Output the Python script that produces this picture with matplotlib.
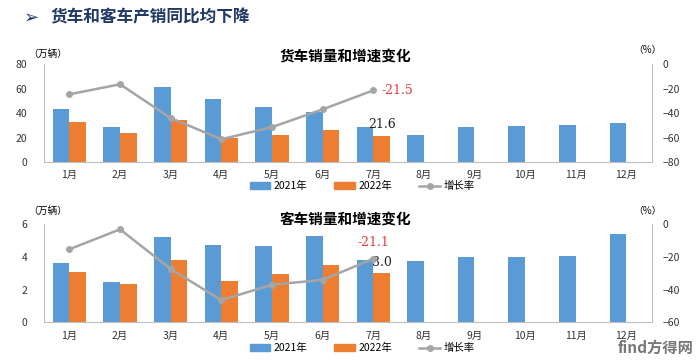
import numpy as np
import matplotlib.pyplot as plt
from matplotlib.lines import Line2D
from matplotlib.patches import Patch

plt.rcParams['font.family'] = ['Noto Sans CJK SC', 'DejaVu Sans']

months = ['1月', '2月', '3月', '4月', '5月', '6月', '7月', '8月', '9月', '10月', '11月', '12月']

truck_2021 = [43.3, 28.2, 61.1, 51.2, 44.9, 40.5, 28.2, 21.7, 28.5, 29.6, 29.9, 32.0]
truck_2022 = [32.3, 23.3, 34.2, 19.7, 21.7, 25.8, 21.6]
truck_rate = [-24.7, -16.5, -44.1, -61.4, -51.5, -37.0, -21.5]

bus_2021 = [3.65, 2.45, 5.22, 4.75, 4.67, 5.30, 3.83, 3.77, 4.00, 3.98, 4.04, 5.43]
bus_2022 = [3.08, 2.36, 3.80, 2.55, 2.94, 3.49, 3.0]
bus_rate = [-15.3, -3.1, -27.4, -46.5, -37.0, -34.1, -21.1]

blue = '#5B9BD5'
orange = '#ED7D31'
gray = '#A5A5A5'
red = '#E8383D'
spine_c = '#BFBFBF'

fig = plt.figure(figsize=(7.0, 3.6), dpi=100)
fig.patch.set_facecolor('white')

fig.text(0.034, 0.952, '➢', fontsize=13, color='#1F3864', va='center', ha='left',
         family=['DejaVu Sans'])
fig.text(0.072, 0.952, '货车和客车产销同比均下降', fontsize=12, color='#1F3864',
         weight='bold', va='center', ha='left')


def draw(rect, v21, v22, rate, ymax, ystep, rmin, rstep, title, rate_off, legend_y,
         title_dy, unit_dy):
    ax = fig.add_axes(rect)
    x = np.arange(len(months))
    w = 0.33
    ax.bar(x - w / 2, v21, w, color=blue, zorder=2)
    x22 = np.arange(len(v22))
    ax.bar(x22 + w / 2, v22, w, color=orange, zorder=2)
    ax.set_xlim(-0.5, 11.5)
    ax.set_ylim(0, ymax)
    ax.set_yticks(np.arange(0, ymax + 0.01, ystep))
    ax.set_xticks(x)
    ax.set_xticklabels(months)
    ax.tick_params(length=0, labelsize=7.5, colors='#333333')
    ax.tick_params(axis='x', pad=6)
    ax.tick_params(axis='y', pad=12)
    for s in ['top', 'right']:
        ax.spines[s].set_visible(False)
    ax.spines['left'].set_color(spine_c)
    ax.spines['bottom'].set_color(spine_c)

    ax2 = ax.twinx()
    xr = np.arange(len(rate))
    ax2.plot(xr, rate, color=gray, lw=1.8, marker='o', ms=4, zorder=3)
    ax2.set_ylim(rmin, 0)
    ax2.set_yticks(np.arange(rmin, 0.01, rstep))
    ax2.tick_params(length=0, labelsize=7.5, colors='#333333', pad=8)
    for s in ['top', 'left', 'bottom']:
        ax2.spines[s].set_visible(False)
    ax2.spines['right'].set_color(spine_c)

    # July value labels
    ax2.annotate(f'{rate[-1]:.1f}', (xr[-1], rate[-1]), xytext=rate_off,
                 textcoords='offset points', color=red, fontsize=9,
                 ha='left' if rate_off[0] > 0 else 'center', va='center',
                 family=['DejaVu Serif'])
    ax.annotate(f'{v22[-1]:.1f}', (x22[-1] + w / 2, v22[-1]), xytext=(0, 3),
                textcoords='offset points', color='#222222', fontsize=9,
                ha='center', va='bottom', family=['DejaVu Serif'])

    top = rect[1] + rect[3]
    fig.text(0.494, top + title_dy, title, fontsize=10.5, weight='bold', ha='center', va='center')
    fig.text(0.068, top + unit_dy, '（万辆）', fontsize=7, ha='center', va='center')
    fig.text(0.925, top + 0.038, '（%）', fontsize=7, ha='center', va='center')

    handles = [Patch(color=blue), Patch(color=orange),
               Line2D([0], [0], color=gray, lw=1.8, marker='o', ms=4)]
    fig.legend(handles, ['2021年', '2022年', '增长率'], loc='center',
               bbox_to_anchor=(0.517, legend_y), ncol=3, frameon=False, fontsize=7.5,
               handlelength=2.0, handleheight=0.6, columnspacing=2.6, handletextpad=0.3)


draw([0.063, 0.55, 0.868, 0.272], truck_2021, truck_2022, truck_rate, 80, 20, -80, 20,
     '货车销量和增速变化', (6, 0), 0.483, 0.02, 0.028)
draw([0.063, 0.105, 0.868, 0.272], bus_2021, bus_2022, bus_rate, 6, 2, -60, 20,
     '客车销量和增速变化', (0, 12), 0.033, 0.016, 0.036)

# site watermark, bottom right
fig.text(0.99, 0.035, 'find方得网', fontsize=11, color='#555555', ha='right', va='center',
         weight='bold', alpha=0.8)

fig.savefig('out.png', dpi=100)
